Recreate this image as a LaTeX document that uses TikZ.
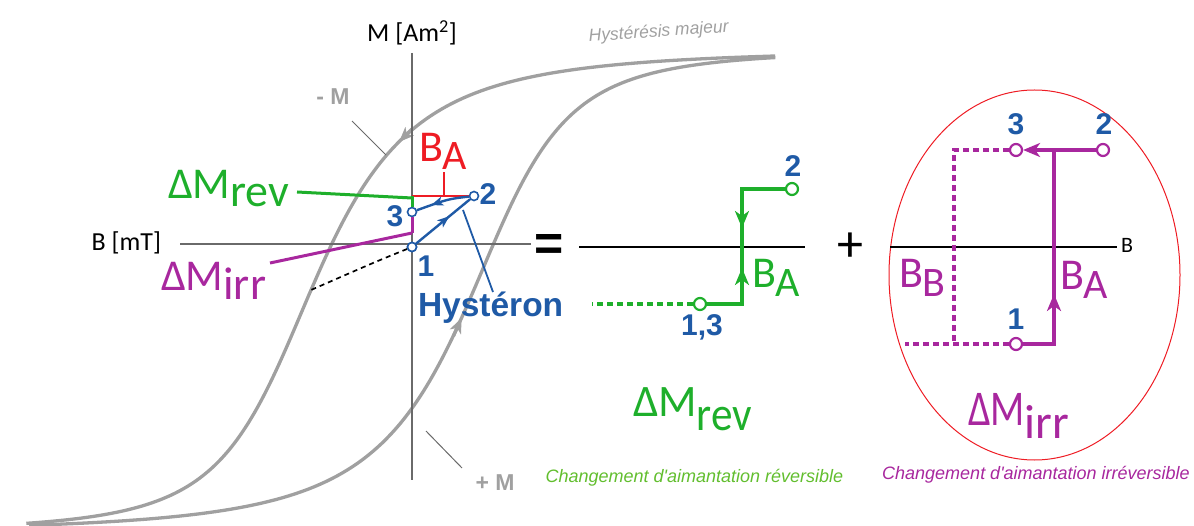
\documentclass[tikz,border=0pt]{standalone}
\usepackage{fontspec}
\usepackage{graphicx}
\setmainfont{Carlito}
\newfontfamily\arialf{Liberation Sans}
\usetikzlibrary{arrows.meta,decorations.markings}
\definecolor{cgray}{HTML}{A0A0A0}
\definecolor{axgray}{HTML}{6A6A6A}
\definecolor{cblue}{HTML}{1F5AA6}
\definecolor{cgreen}{HTML}{1EAF2B}
\definecolor{lgreen}{HTML}{62BE2E}
\definecolor{cmag}{HTML}{A8279E}
\definecolor{cred}{HTML}{EE1C24}
\newcommand\fsz[1]{\fontsize{#1}{#1}\selectfont}
\newcommand\lowsub[3]{\raisebox{-#1}{\fsz{#2}#3}}
\begin{document}
\begin{tikzpicture}[x=1pt,y=-1pt,
 lab/.style={inner sep=0pt,outer sep=0pt},
 loopline/.style={draw=cgray,line width=3.3pt},
 axis/.style={draw=axgray,line width=1.2pt},
 blk/.style={draw=black,line width=1.6pt},
 thinann/.style={draw=axgray,line width=1pt},
 bline/.style={draw=cblue,line width=2.4pt},
 gline/.style={draw=cgreen,line width=3.8pt},
 mline/.style={draw=cmag,line width=3.4pt},
 bpt/.style={circle,draw=cblue,fill=white,line width=1.6pt,minimum size=9pt,inner sep=0pt},
 gpt/.style={circle,draw=cgreen,fill=white,line width=2.2pt,minimum size=12pt,inner sep=0pt},
 mpt/.style={circle,draw=cmag,fill=white,line width=2.2pt,minimum size=12pt,inner sep=0pt},
 gdash/.style={gline,dash pattern=on 6pt off 4pt},
 mdash/.style={mline,dash pattern=on 6pt off 4pt},
 bigtip/.style={-{Stealth[length=17pt,width=14pt,inset=5pt]}},
 graytip/.style={-{Stealth[length=15pt,width=12pt,inset=4pt]}},
 bmark/.style={postaction={decorate},decoration={markings,mark=at position #1 with {\arrow{Stealth[length=12pt,width=9pt,inset=3pt]}}}},
]
\useasboundingbox (0,0) rectangle (1194,526);

% major hysteresis loop (point-symmetric about (392,291))
\draw[loopline,line join=round] plot[domain=-2.0:2.185,samples=140,variable=\u]
  ({310.6+103.5*\u+13.78*\u*\u+16.55*\u*\u*\u},{291-241*tanh(\u)});
\draw[loopline,line join=round] plot[domain=-2.07:2.135,samples=140,variable=\u]
  ({473.4-103.5*\u-13.78*\u*\u-16.55*\u*\u*\u},{291+241*tanh(\u)});
\coordinate (ga) at (412,129); \coordinate (gb) at (399,142);
\draw[loopline,graytip] (ga) -- (gb);
\coordinate (gc) at (453.4,336.2); \coordinate (gd) at (461.6,318);
\draw[loopline,graytip] (gc) -- (gd);

% axes
\coordinate (ax1) at (412,53); \coordinate (ax2) at (412,480);
\coordinate (ax3) at (180,244); \coordinate (ax4) at (531,244);
\draw[axis] (ax1) -- (ax2);
\draw[axis] (ax3) -- (ax4);
\node[lab,anchor=base] (tM) at (412,42) {\fsz{26}M [Am\textsuperscript{2}]};
\node[lab,anchor=base east] (tB) at (161,251) {\fsz{26}B [mT]};
\node[lab,anchor=base,rotate=4,text=cgray] (tmaj) at (659,37) {\arialf\itshape\fsz{17.5}Hystérésis majeur};

% -M / +M
\node[lab,anchor=base,text=cgray] (tminus) at (333,105) {\arialf\bfseries\fsz{23}- M};
\node[lab,anchor=base,text=cgray] (tplus) at (495,490) {\arialf\bfseries\fsz{23}+ M};
\coordinate (mm1) at (352,121); \coordinate (mm2) at (386,155);
\draw[thinann] (mm1) -- (mm2);
\coordinate (pm1) at (426,431); \coordinate (pm2) at (462,468);
\draw[thinann] (pm1) -- (pm2);

% hysteron
\node[bpt] (h1) at (412,247) {};
\node[bpt] (h2) at (474,196) {};
\node[bpt] (h3) at (412,212) {};
\coordinate (rA) at (412,196);
\coordinate (rt1) at (444,196); \coordinate (rt2) at (444,172);
\draw[cred,line width=1.4pt] (rA) -- (h2);
\draw[cred,line width=1.2pt] (rt1) -- (rt2);
\draw[draw=cgreen,line width=3pt] (rA) -- (h3);
\coordinate (mI) at (412,233);
\draw[draw=cmag,line width=3pt] (h3) -- (mI);
\coordinate (gL1) at (297,192); \coordinate (gL2) at (412,198);
\draw[draw=cgreen,line width=3pt] (gL1) -- (gL2);
\coordinate (mL1) at (270,263);
\draw[draw=cmag,line width=3pt] (mL1) -- (mI);
\draw[bline,bmark=0.62] (h1) -- (h2);
\draw[bline,bmark=0.72] (h2) .. controls (448,199) .. (h3);
\coordinate (hp1) at (463,210); \coordinate (hp2) at (493,292);
\draw[draw=cblue,line width=1.8pt] (hp1) -- (hp2);
\coordinate (dE) at (311,290);
\draw[black,line width=1.7pt,dash pattern=on 5pt off 4pt] (h1) .. controls (375,262) .. (dE);
\node[bpt] at (h1) {};

\node[lab,anchor=base west,text=cred] (lBA) at (419,162) {\fsz{44}B\lowsub{8pt}{42}{A}};
\node[lab,anchor=base west,text=cgreen] (lrev) at (168,199) {\fsz{44}ΔM\lowsub{8pt}{46}{rev}};
\node[lab,anchor=base west,text=cmag] (lirr) at (161,291) {\fsz{44}ΔM\lowsub{9pt}{46}{irr}};
\node[lab,anchor=base,text=cblue] (n1) at (426,277) {\arialf\bfseries\fsz{30}1};
\node[lab,anchor=base,text=cblue] (n2) at (488,205) {\arialf\bfseries\fsz{30}2};
\node[lab,anchor=base,text=cblue] (n3) at (395,227) {\arialf\bfseries\fsz{30}3};
\node[lab,anchor=base west,text=cblue] (lhys) at (418,317) {\arialf\bfseries\fsz{33.5}Hystéron};

\node[lab,anchor=base] (eq) at (549,261) {\arialf\bfseries\fsz{50}=};

% middle: reversible
\coordinate (mA1) at (579,247); \coordinate (mA2) at (805,247);
\draw[blk] (mA1) -- (mA2);
\node[gpt] (m13) at (700,304) {};
\node[gpt] (m2) at (792,189) {};
\coordinate (mc1) at (742,304); \coordinate (mc2) at (742,189); \coordinate (mdl) at (592,304);
\draw[gline] (m13) -- (mc1) -- (mc2) -- (m2);
\draw[gdash] (m13) -- (mdl);
\coordinate (gu1) at (742,292); \coordinate (gu2) at (742,268);
\draw[gline,bigtip] (gu1) -- (gu2);
\coordinate (gv1) at (742,203); \coordinate (gv2) at (742,228);
\draw[gline,bigtip] (gv1) -- (gv2);
\node[lab,anchor=base,text=cblue] (n13) at (702,336) {\arialf\bfseries\fsz{30}1,3};
\node[lab,anchor=base,text=cblue] (n2m) at (793,177) {\arialf\bfseries\fsz{30}2};
\node[lab,anchor=base west,text=cgreen] (lBAg) at (752,288) {\fsz{44}B\lowsub{9pt}{42}{A}};
\node[lab,anchor=base west,text=cgreen] (lrev2) at (633,417) {\fsz{45}ΔM\lowsub{14pt}{48}{\scalebox{0.9}[1]{rev}}};
\node[lab,anchor=base,text=lgreen] (cap1) at (694.5,482) {\arialf\itshape\fsz{18}Changement d'aimantation réversible};

\node[lab,anchor=base] (plus) at (850,262) {\fsz{52}+};

% right: irreversible
\draw[cred,line width=1pt] (1034.5,275) ellipse [x radius=145.5, y radius=185];
\coordinate (rA1) at (890,247); \coordinate (rA2) at (1117,247);
\draw[blk] (rA1) -- (rA2);
\node[lab,anchor=base west] (rB) at (1121,253) {\fsz{22}B};
\node[mpt] (r3) at (1016,150) {};
\node[mpt] (r2) at (1103,150) {};
\node[mpt] (r1) at (1016,344) {};
\coordinate (rc1) at (1054,344); \coordinate (rc2) at (1054,150);
\coordinate (rd1) at (954,150); \coordinate (rd2) at (954,344); \coordinate (rd3) at (905,344);
\draw[mdash] (r3) -- (rd1) -- (rd2);
\draw[mdash] (r1) -- (rd3);
\draw[mline] (r1) -- (rc1) -- (rc2);
\draw[mline,bigtip] (r2) -- (r3);
\coordinate (mu1) at (1054,318); \coordinate (mu2) at (1054,294);
\draw[mline,bigtip] (mu1) -- (mu2);
\node[lab,anchor=base,text=cblue] (n3r) at (1016,135) {\arialf\bfseries\fsz{30}3};
\node[lab,anchor=base,text=cblue] (n2r) at (1104,135) {\arialf\bfseries\fsz{30}2};
\node[lab,anchor=base,text=cblue] (n1r) at (1016,330) {\arialf\bfseries\fsz{30}1};
\node[lab,anchor=base west,text=cmag] (lBB) at (899,288) {\fsz{44}B\lowsub{9pt}{42}{B}};
\node[lab,anchor=base west,text=cmag] (lBAm) at (1060,290) {\fsz{44}B\lowsub{9pt}{42}{A}};
\node[lab,anchor=base west,text=cmag] (lirr2) at (968,425) {\scalebox{0.8}[1]{\fsz{50}ΔM}\lowsub{13pt}{48}{irr}};
\node[lab,anchor=base,text=cmag] (cap2) at (1036,479) {\arialf\itshape\fsz{18}Changement d'aimantation irréversible};
\end{tikzpicture}
\end{document}
